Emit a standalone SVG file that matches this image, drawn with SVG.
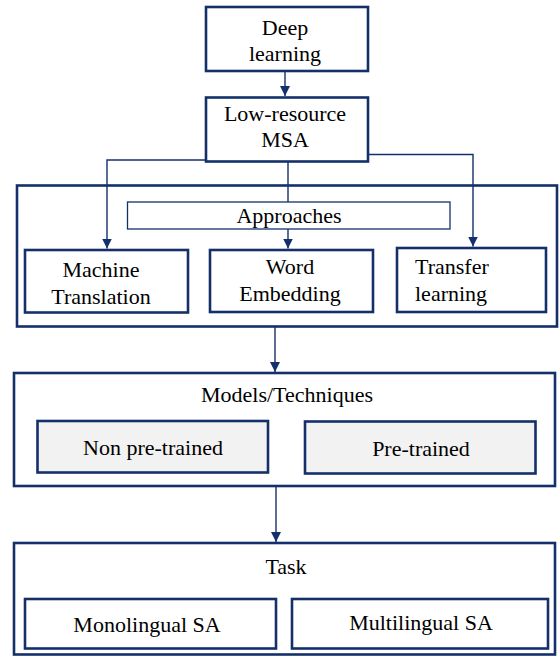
<svg xmlns="http://www.w3.org/2000/svg" width="559" height="656" viewBox="0 0 559 656">
<defs>
<marker id="arr" markerUnits="userSpaceOnUse" markerWidth="11" markerHeight="10" refX="10" refY="5" orient="auto">
<path d="M0,0 L10,5 L0,10 z" fill="#14306b"/>
</marker>
</defs>
<rect width="559" height="656" fill="#ffffff"/>
<g id="n-approaches-group">
<rect x="17" y="185.5" width="540" height="141" fill="#ffffff" stroke="#14306b" stroke-width="2.6"/>
</g>
<g id="n-models">
<rect x="14" y="373" width="541" height="113" fill="#ffffff" stroke="#14306b" stroke-width="2.6"/>
<text font-family="'Liberation Serif', serif" font-size="22" text-anchor="middle" x="287" y="401.5">Models/Techniques</text>
</g>
<g id="n-task">
<rect x="14" y="543" width="541" height="111.5" fill="#ffffff" stroke="#14306b" stroke-width="2.6"/>
<text font-family="'Liberation Serif', serif" font-size="22" text-anchor="middle" x="286" y="573.5">Task</text>
</g>
<g id="connectors" fill="none" stroke="#14306b" stroke-width="1.4">
<path d="M285,71 V96" marker-end="url(#arr)"/>
<path d="M206,160 H107 V248.5" marker-end="url(#arr)"/>
<path d="M288,162 V202"/>
<path d="M288,229 V248.5" marker-end="url(#arr)"/>
<path d="M368,154.5 H473 V246.5" marker-end="url(#arr)"/>
<path d="M275,327 V372" marker-end="url(#arr)"/>
<path d="M276,486 V542" marker-end="url(#arr)"/>
</g>
<g id="n-deep">
<rect x="206" y="7" width="162" height="64" fill="#ffffff" stroke="#14306b" stroke-width="2.6"/>
<text font-family="'Liberation Serif', serif" font-size="22" text-anchor="middle" x="285" y="35">Deep</text>
<text font-family="'Liberation Serif', serif" font-size="22" text-anchor="middle" x="285" y="61">learning</text>
</g>
<g id="n-lowres">
<rect x="206" y="97.5" width="162" height="64" fill="#ffffff" stroke="#14306b" stroke-width="2.6"/>
<text font-family="'Liberation Serif', serif" font-size="22" text-anchor="middle" x="285" y="120.5">Low-resource</text>
<text font-family="'Liberation Serif', serif" font-size="22" text-anchor="middle" x="285" y="146.5">MSA</text>
</g>
<g id="n-approaches">
<rect x="127.5" y="202" width="322.5" height="27" fill="#ffffff" stroke="#14306b" stroke-width="1.3"/>
<text font-family="'Liberation Serif', serif" font-size="22" text-anchor="middle" x="289" y="223">Approaches</text>
</g>
<g id="n-mt">
<rect x="25" y="250" width="163" height="62.5" fill="#ffffff" stroke="#14306b" stroke-width="2.6"/>
<text font-family="'Liberation Serif', serif" font-size="22" text-anchor="middle" x="101" y="277">Machine</text>
<text font-family="'Liberation Serif', serif" font-size="22" text-anchor="middle" x="101" y="303.5">Translation</text>
</g>
<g id="n-we">
<rect x="210" y="250" width="163" height="62" fill="#ffffff" stroke="#14306b" stroke-width="2.6"/>
<text font-family="'Liberation Serif', serif" font-size="22" text-anchor="middle" x="290" y="274">Word</text>
<text font-family="'Liberation Serif', serif" font-size="22" text-anchor="middle" x="290" y="301">Embedding</text>
</g>
<g id="n-tl">
<rect x="397" y="248" width="149" height="64" fill="#ffffff" stroke="#14306b" stroke-width="2.6"/>
<text font-family="'Liberation Serif', serif" font-size="22" x="415" y="274">Transfer</text>
<text font-family="'Liberation Serif', serif" font-size="22" x="415" y="301">learning</text>
</g>
<g id="n-nonpre">
<rect x="37.5" y="421" width="230.5" height="51.5" fill="#f2f2f2" stroke="#14306b" stroke-width="2.6"/>
<text font-family="'Liberation Serif', serif" font-size="22" text-anchor="middle" x="153" y="455">Non pre-trained</text>
</g>
<g id="n-pre">
<rect x="305" y="421.5" width="230.5" height="52" fill="#f2f2f2" stroke="#14306b" stroke-width="2.6"/>
<text font-family="'Liberation Serif', serif" font-size="22" text-anchor="middle" x="421" y="456">Pre-trained</text>
</g>
<g id="n-mono">
<rect x="25" y="599" width="251" height="49.5" fill="#ffffff" stroke="#14306b" stroke-width="2.6"/>
<text font-family="'Liberation Serif', serif" font-size="22" text-anchor="middle" x="147" y="632">Monolingual SA</text>
</g>
<g id="n-multi">
<rect x="292" y="599" width="256" height="49.5" fill="#ffffff" stroke="#14306b" stroke-width="2.6"/>
<text font-family="'Liberation Serif', serif" font-size="22" text-anchor="middle" x="421" y="630">Multilingual SA</text>
</g>
</svg>
